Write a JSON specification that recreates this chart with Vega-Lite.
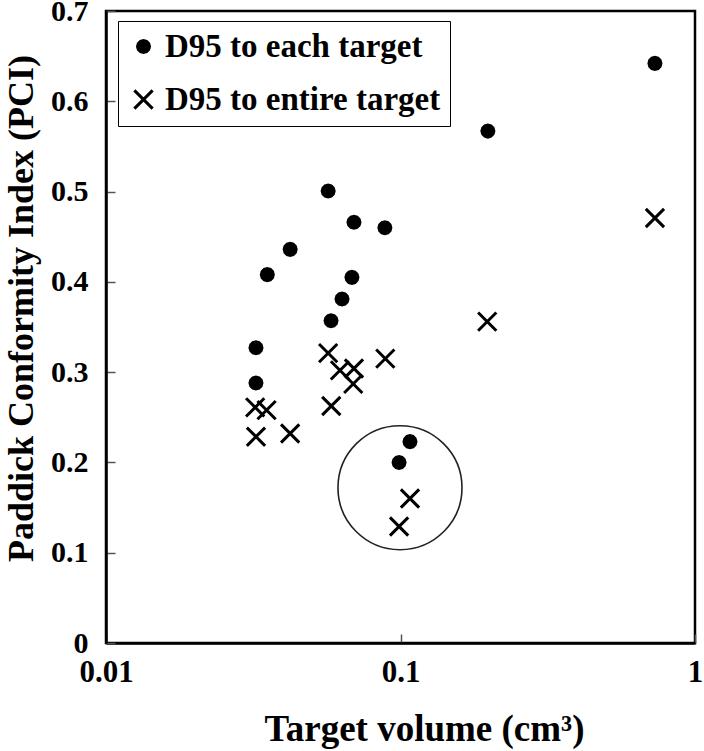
{
  "$schema": "https://vega.github.io/schema/vega-lite/v6.json",
  "width": 589,
  "height": 632,
  "autosize": {"type": "none"},
  "padding": {"left": 106, "top": 11, "right": 9, "bottom": 108},
  "background": "white",
  "config": {
    "view": {"stroke": "black", "strokeWidth": 2.5},
    "font": "Liberation Serif",
    "axis": {
      "grid": false,
      "domainColor": "black",
      "domainWidth": 2.5,
      "tickColor": "#555555",
      "tickWidth": 1.5,
      "tickSize": -9,
      "labelFont": "Liberation Serif",
      "labelFontWeight": "bold",
      "labelFontSize": 31,
      "labelColor": "black",
      "labelFlush": false,
      "labelOverlap": false,
      "labelBound": false,
      "titleFont": "Liberation Serif",
      "titleFontWeight": "bold",
      "titleFontSize": 37,
      "titleColor": "black"
    },
    "legend": {
      "orient": "none",
      "legendX": 12,
      "legendY": 10,
      "strokeColor": "black",
      "padding": 9,
      "rowPadding": 19,
      "symbolOffset": 0,
      "symbolSize": 170,
      "symbolStrokeWidth": 3,
      "symbolStrokeColor": "black",
      "symbolFillColor": "transparent",
      "labelFont": "Liberation Serif",
      "labelFontWeight": "bold",
      "labelFontSize": 33,
      "labelColor": "black",
      "labelOffset": 5,
      "labelLimit": 400
    }
  },
  "datasets": {
    "points": [
      {"series": "D95 to each target", "volume": 0.731, "pci": 0.642},
      {"series": "D95 to each target", "volume": 0.198, "pci": 0.567},
      {"series": "D95 to each target", "volume": 0.0568, "pci": 0.5006},
      {"series": "D95 to each target", "volume": 0.0695, "pci": 0.466},
      {"series": "D95 to each target", "volume": 0.0885, "pci": 0.46},
      {"series": "D95 to each target", "volume": 0.0422, "pci": 0.436},
      {"series": "D95 to each target", "volume": 0.0353, "pci": 0.408},
      {"series": "D95 to each target", "volume": 0.0684, "pci": 0.405},
      {"series": "D95 to each target", "volume": 0.0633, "pci": 0.381},
      {"series": "D95 to each target", "volume": 0.0581, "pci": 0.357},
      {"series": "D95 to each target", "volume": 0.0323, "pci": 0.327},
      {"series": "D95 to each target", "volume": 0.0323, "pci": 0.288},
      {"series": "D95 to each target", "volume": 0.1077, "pci": 0.223},
      {"series": "D95 to each target", "volume": 0.0989, "pci": 0.2},
      {"series": "D95 to entire target", "volume": 0.731, "pci": 0.4707},
      {"series": "D95 to entire target", "volume": 0.197, "pci": 0.356},
      {"series": "D95 to entire target", "volume": 0.0568, "pci": 0.321},
      {"series": "D95 to entire target", "volume": 0.0623, "pci": 0.302},
      {"series": "D95 to entire target", "volume": 0.0695, "pci": 0.304},
      {"series": "D95 to entire target", "volume": 0.0691, "pci": 0.287},
      {"series": "D95 to entire target", "volume": 0.0888, "pci": 0.315},
      {"series": "D95 to entire target", "volume": 0.0321, "pci": 0.261},
      {"series": "D95 to entire target", "volume": 0.0351, "pci": 0.258},
      {"series": "D95 to entire target", "volume": 0.0582, "pci": 0.2625},
      {"series": "D95 to entire target", "volume": 0.0323, "pci": 0.2285},
      {"series": "D95 to entire target", "volume": 0.0422, "pci": 0.232},
      {"series": "D95 to entire target", "volume": 0.1077, "pci": 0.16},
      {"series": "D95 to entire target", "volume": 0.0989, "pci": 0.129}
    ],
    "highlight": [
      {"volume": 0.0996, "pci": 0.172}
    ]
  },
  "layer": [
    {
      "data": {"name": "highlight"},
      "mark": {"type": "point", "shape": "circle", "filled": false, "size": 15376, "stroke": "#222222", "strokeWidth": 1.6, "opacity": 1},
      "encoding": {
        "x": {"field": "volume", "type": "quantitative"},
        "y": {"field": "pci", "type": "quantitative"}
      }
    },
    {
      "data": {"name": "points"},
      "mark": {"type": "point", "filled": false, "size": 170, "strokeWidth": 3, "stroke": "black", "color": "black", "opacity": 1},
      "encoding": {
        "x": {
          "field": "volume", "type": "quantitative",
          "scale": {"type": "log", "domain": [0.01, 1], "nice": false},
          "axis": {"values": [0.01, 0.1, 1], "format": "~g", "labelPadding": 23, "title": "Target volume (cm³)", "titleX": 318, "titleY": 97, "titleBaseline": "alphabetic", "titleAnchor": "middle"}
        },
        "y": {
          "field": "pci", "type": "quantitative",
          "scale": {"domain": [0, 0.7], "nice": false, "zero": false},
          "axis": {"values": [0, 0.1, 0.2, 0.3, 0.4, 0.5, 0.6, 0.7], "format": "~g", "labelPadding": 27, "labelFontSize": 30, "labelBaseline": "middle", "title": "Paddick Conformity Index (PCI)", "titleFontSize": 36, "titleX": -85, "titleY": 297, "titleAnchor": "middle", "titleBaseline": "middle", "titleAngle": -90}
        },
        "shape": {
          "field": "series", "type": "nominal",
          "scale": {"domain": ["D95 to each target", "D95 to entire target"], "range": ["M0.92,0L0.797,0.46L0.46,0.797L0,0.92L-0.46,0.797L-0.797,0.46L-0.92,0L-0.797,-0.46L-0.46,-0.797L0,-0.92L0.46,-0.797L0.797,-0.46ZM-0.92,0L0.92,0M-0.85,0.35L0.85,0.35M-0.85,-0.35L0.85,-0.35M-0.6,0.7L0.6,0.7M-0.6,-0.7L0.6,-0.7", "M-1.4,-1.4L1.4,1.4M-1.4,1.4L1.4,-1.4"]},
          "legend": {"title": null, "encode": {"legend": {"update": {"strokeWidth": {"value": 2}}}}}
        }
      }
    }
  ]
}
